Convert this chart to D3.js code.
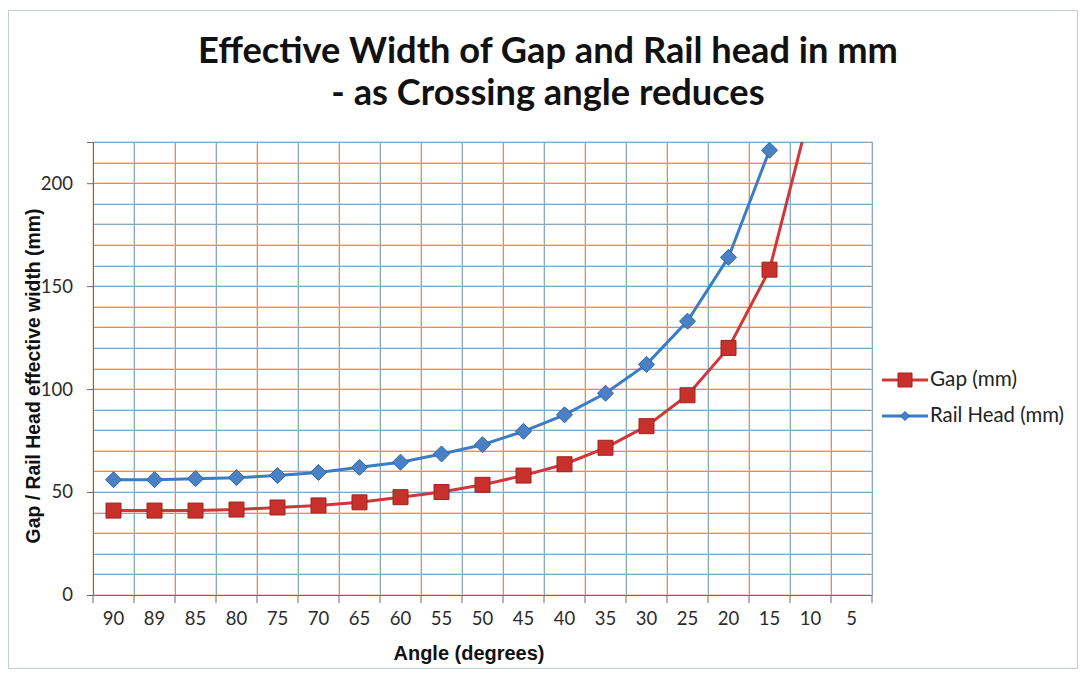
<!DOCTYPE html>
<html>
<head>
<meta charset="utf-8">
<script src="https://cdn.jsdelivr.net/npm/d3@7"></script>
<style>
  body { margin: 0; background: #fff; }
  svg { display: block; }
</style>
</head>
<body>
<div id="chart"></div>
<script>
// crossing angle categories (degrees), left to right
const angles = ['90', '89', '85', '80', '75', '70', '65', '60', '55', '50', '45', '40', '35', '30', '25', '20', '15', '10', '5'];
// effective gap width (mm); 5 deg not plotted
const gapValues = [41, 41, 41, 41.5, 42.5, 43.5, 45, 47.5, 50, 53.5, 58, 63.5, 71.5, 82, 97, 120, 158, 236, null];
// effective rail head width (mm); ends at 15 deg
const railValues = [56, 56, 56.5, 57, 58, 59.5, 62, 64.5, 68.5, 73, 79.5, 87.5, 98, 112, 133, 164, 216, null, null];
const yTicks = [0, 50, 100, 150, 200];

const W = 1085, H = 673;
const margin = {top: 142, right: 213, bottom: 78, left: 93};
const width = W - margin.left - margin.right,
    height = H - margin.top - margin.bottom;

const series = [
    {name: 'Gap (mm)', values: gapValues, line: '#d0363a', fill: '#c8302c', stroke: '#9c2420', marker: 'square'},
    {name: 'Rail Head (mm)', values: railValues, line: '#3a7cc6', fill: '#4a80c4', stroke: '#2f64a6', marker: 'diamond'}
];

// scale a text's font size so it spans the given width
function fitText(sel, target) {
    const base = parseFloat(sel.style('font-size'));
    const len = sel.node().getComputedTextLength();
    sel.style('font-size', (base * target / len).toFixed(2) + 'px');
}

const svg = d3.select('#chart').append('svg')
    .attr('width', W)
    .attr('height', H);

// outer chart frame
svg.append('rect')
    .attr('x', 8.5).attr('y', 10.5)
    .attr('width', 1069).attr('height', 658)
    .attr('fill', 'none')
    .attr('stroke', '#c3cfd6')
    .attr('stroke-width', 1);

const g = svg.append('g')
    .attr('transform', `translate(${margin.left}, ${margin.top})`);

const xScale = d3.scaleBand()
    .domain(angles)
    .range([0, width])
    .padding(0);

const yScale = d3.scaleLinear()
    .domain([0, 220])
    .range([height, 0]);

// grid: faint orange ghost line + blue-grey line, like the scan
const hLines = d3.range(0, 221, 10);
const vLines = angles.map(a => xScale(a)).concat([width]);

const grid = g.append('g');
[['#f7d9cb', -1], ['#86a9bc', 0]].forEach(([col, off]) => {
    grid.selectAll(null)
        .data(hLines)
        .enter().append('line')
        .attr('x1', 0).attr('x2', width)
        .attr('y1', d => Math.round(yScale(d)) + 0.5 + off)
        .attr('y2', d => Math.round(yScale(d)) + 0.5 + off)
        .attr('stroke', col)
        .attr('stroke-width', 1);
    grid.selectAll(null)
        .data(vLines)
        .enter().append('line')
        .attr('y1', 0).attr('y2', height)
        .attr('x1', d => Math.round(d) + 0.5 + off)
        .attr('x2', d => Math.round(d) + 0.5 + off)
        .attr('stroke', col)
        .attr('stroke-width', 1);
});

// axes
const yAxis = g.append('g')
    .call(d3.axisLeft(yScale).tickValues(yTicks).tickSize(6).tickPadding(14));
const xAxis = g.append('g')
    .attr('transform', `translate(0, ${height})`)
    .call(d3.axisBottom(xScale).tickSize(0).tickPadding(17));
xAxis.selectAll('.tick').append('line')
    .attr('x1', -xScale.bandwidth() / 2).attr('x2', -xScale.bandwidth() / 2)
    .attr('y1', 0).attr('y2', 8)
    .attr('stroke', '#5d6f7a');
xAxis.append('line')
    .attr('x1', width).attr('x2', width)
    .attr('y1', 0).attr('y2', 8)
    .attr('stroke', '#5d6f7a');

[yAxis, xAxis].forEach(ax => {
    ax.select('.domain').attr('stroke', '#5d6f7a');
    ax.selectAll('.tick line').attr('stroke', '#5d6f7a');
    ax.selectAll('.tick text')
        .attr('fill', '#2b2b2b')
        .style('font-family', 'Lato, "Open Sans", sans-serif')
        .style('font-size', '18.5px');
});

// lines and markers, clipped to the plot area
svg.append('defs').append('clipPath')
    .attr('id', 'plot-clip')
    .append('rect')
    .attr('x', 0).attr('y', 0)
    .attr('width', width).attr('height', height);

const plot = g.append('g').attr('clip-path', 'url(#plot-clip)');
const xc = a => xScale(a) + xScale.bandwidth() / 2;

const line = d3.line()
    .defined(d => d.v != null)
    .x(d => xc(d.a))
    .y(d => yScale(d.v));

const markerPath = (type, size) => type === 'square'
    ? `M${-size / 2},${-size / 2}h${size}v${size}h${-size}Z`
    : `M0,${-size / 2}L${size / 2},0L0,${size / 2}L${-size / 2},0Z`;

series.forEach(s => {
    const pts = angles.map((a, i) => ({a, v: s.values[i]}));
    plot.append('path')
        .datum(pts)
        .attr('fill', 'none')
        .attr('stroke', s.line)
        .attr('stroke-width', 3)
        .attr('d', line);
    plot.selectAll(null)
        .data(pts.filter(d => d.v != null && d.v <= 220))
        .enter().append('path')
        .attr('transform', d => `translate(${xc(d.a)}, ${yScale(d.v)})`)
        .attr('d', markerPath(s.marker, s.marker === 'square' ? 15 : 16))
        .attr('fill', s.fill)
        .attr('stroke', s.stroke)
        .attr('stroke-width', 1);
});

// title
const titleFont = sel => sel
    .attr('text-anchor', 'middle')
    .style('font-family', 'Lato, "Open Sans", sans-serif')
    .style('font-weight', 'bold')
    .style('font-size', '33px')
    .attr('fill', '#111');
const t1 = svg.append('text').call(titleFont)
    .attr('x', 548).attr('y', 63)
    .text('Effective Width of Gap and Rail head in mm');
fitText(t1, 700);
const t2 = svg.append('text').call(titleFont)
    .style('font-size', t1.style('font-size'))
    .attr('x', 548).attr('y', 105)
    .text('- as Crossing angle reduces');

// axis titles
const yTitle = svg.append('text')
    .attr('transform', 'translate(40, 376) rotate(-90)')
    .attr('text-anchor', 'middle')
    .style('font-family', '"Liberation Sans", Arial, sans-serif')
    .style('font-weight', 'bold')
    .style('font-size', '16px')
    .attr('fill', '#111')
    .text('Gap / Rail Head effective width (mm)');
fitText(yTitle, 335);

const xTitle = svg.append('text')
    .attr('x', 469).attr('y', 660)
    .attr('text-anchor', 'middle')
    .style('font-family', '"Liberation Sans", Arial, sans-serif')
    .style('font-weight', 'bold')
    .style('font-size', '16px')
    .attr('fill', '#111')
    .text('Angle (degrees)');
fitText(xTitle, 151);

// legend
const legend = svg.append('g').attr('transform', 'translate(882, 380)');
series.forEach((s, i) => {
    const row = legend.append('g').attr('transform', `translate(0, ${i * 36})`);
    row.append('line')
        .attr('x1', 0).attr('x2', 46)
        .attr('stroke', s.line)
        .attr('stroke-width', 3);
    row.append('path')
        .attr('transform', 'translate(23, 0)')
        .attr('d', markerPath(s.marker, s.marker === 'square' ? 14 : 9))
        .attr('fill', s.fill)
        .attr('stroke', s.stroke);
    const txt = row.append('text')
        .attr('x', 48).attr('y', 6)
        .style('font-family', 'Lato, "Open Sans", sans-serif')
        .style('font-size', '16.5px')
        .attr('fill', '#222')
        .text(s.name);
    fitText(txt, i === 0 ? 87 : 134);
});
</script>
</body>
</html>
